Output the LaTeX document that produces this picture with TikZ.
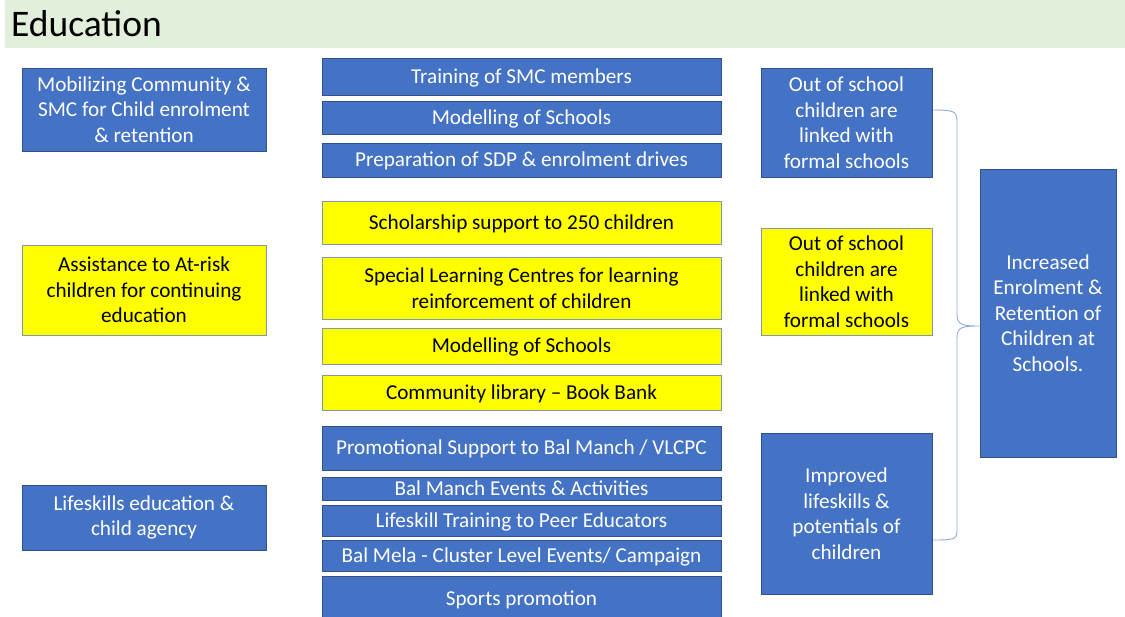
\documentclass[tikz,border=0pt]{standalone}
\usepackage{fontspec}
\setmainfont{Carlito}
\usetikzlibrary{positioning}

\definecolor{boxblue}{HTML}{4472C4}
\definecolor{blueline}{HTML}{2F528F}
\definecolor{boxyellow}{HTML}{FFFF00}
\definecolor{yellowline}{HTML}{8497B0}
\definecolor{titlegreen}{HTML}{E2EFDA}
\definecolor{braceline}{HTML}{8FAADC}

\begin{document}
\begin{tikzpicture}[
  x=1pt, y=-1pt,
  every node/.style={align=center, font=\fontsize{21.2}{25.5}\selectfont, inner sep=2pt},
  bluebox/.style={draw=blueline, fill=boxblue, text=white, line width=0.8pt},
  yellowbox/.style={draw=yellowline, fill=boxyellow, text=black, line width=0.8pt},
  oneline/.style={text height=16pt, text depth=2pt},
  bracepath/.style={draw=braceline, line width=0.9pt}
]
\useasboundingbox (0,0) rectangle (1125,617);

% title band
\fill[titlegreen] (5,0) rectangle (1125,48);
\node[anchor=west, font=\fontsize{37.5}{42}\selectfont] (title) at (9,24) {Education};

% left column
\node[bluebox, minimum width=244, minimum height=83] (mobilize) at (144,109.5)
  {Mobilizing Community \&\\SMC for Child enrolment\\\& retention};
\node[yellowbox, minimum width=244, minimum height=90] (atrisk) at (144,290)
  {Assistance to At-risk\\children for continuing\\education};
\node[bluebox, minimum width=244, minimum height=65] (lifeskills) at (144,517.5)
  {Lifeskills education \&\\child agency};

% middle column
\node[bluebox, oneline, minimum width=399, minimum height=37] (smc) at (521.5,76.5) {Training of SMC members};
\node[bluebox, oneline, minimum width=399, minimum height=33] (model1) at (521.5,117.5) {Modelling of Schools};
\node[bluebox, oneline, minimum width=399, minimum height=34] (sdp) at (521.5,160) {Preparation of SDP \& enrolment drives};
\node[yellowbox, oneline, minimum width=399, minimum height=43] (scholar) at (521.5,222.5) {Scholarship support to 250 children};
\node[yellowbox, minimum width=399, minimum height=62] (slc) at (521.5,288)
  {Special Learning Centres for learning\\reinforcement of children};
\node[yellowbox, oneline, minimum width=399, minimum height=36] (model2) at (521.5,346) {Modelling of Schools};
\node[yellowbox, oneline, minimum width=399, minimum height=35] (library) at (521.5,392.5) {Community library -- Book Bank};
\node[bluebox, oneline, minimum width=399, minimum height=44] (promo) at (521.5,448) {Promotional Support to Bal Manch / VLCPC};
\node[bluebox, oneline, inner ysep=0pt, minimum width=399, minimum height=23] (events) at (521.5,488.5) {Bal Manch Events \& Activities};
\node[bluebox, oneline, minimum width=399, minimum height=31] (peer) at (521.5,520.5) {Lifeskill Training to Peer Educators};
\node[bluebox, oneline, minimum width=399, minimum height=31] (mela) at (521.5,555.5) {Bal Mela - Cluster Level Events/ Campaign};
\node[bluebox, oneline, minimum width=399, minimum height=44] (sports) at (521.5,598) {Sports promotion};

% right column
\node[bluebox, minimum width=171, minimum height=109] (linked1) at (846.5,122.5)
  {Out of school\\children are\\linked with\\formal schools};
\node[yellowbox, minimum width=171, minimum height=107] (linked2) at (846.5,281.5)
  {Out of school\\children are\\linked with\\formal schools};
\node[bluebox, minimum width=171, minimum height=161] (improved) at (846.5,513.5)
  {Improved\\lifeskills \&\\potentials of\\children};

% outcome
\node[bluebox, minimum width=136, minimum height=288] (outcome) at (1048,313)
  {Increased\\Enrolment \&\\Retention of\\Children at\\Schools.};

% brace
\coordinate (bracetop) at (933,110);
\coordinate (bracebot) at (933,540);
\coordinate (bracetip) at (outcome.west |- 0,326);
\draw[bracepath] (bracetop) .. controls (957,110) and (957,112) .. (957,124)
  -- (957,314) .. controls (957,325) and (962,326) .. (bracetip)
  .. controls (962,326) and (957,327) .. (957,338)
  -- (957,528) .. controls (957,539) and (957,540) .. (bracebot);
\end{tikzpicture}
\end{document}
